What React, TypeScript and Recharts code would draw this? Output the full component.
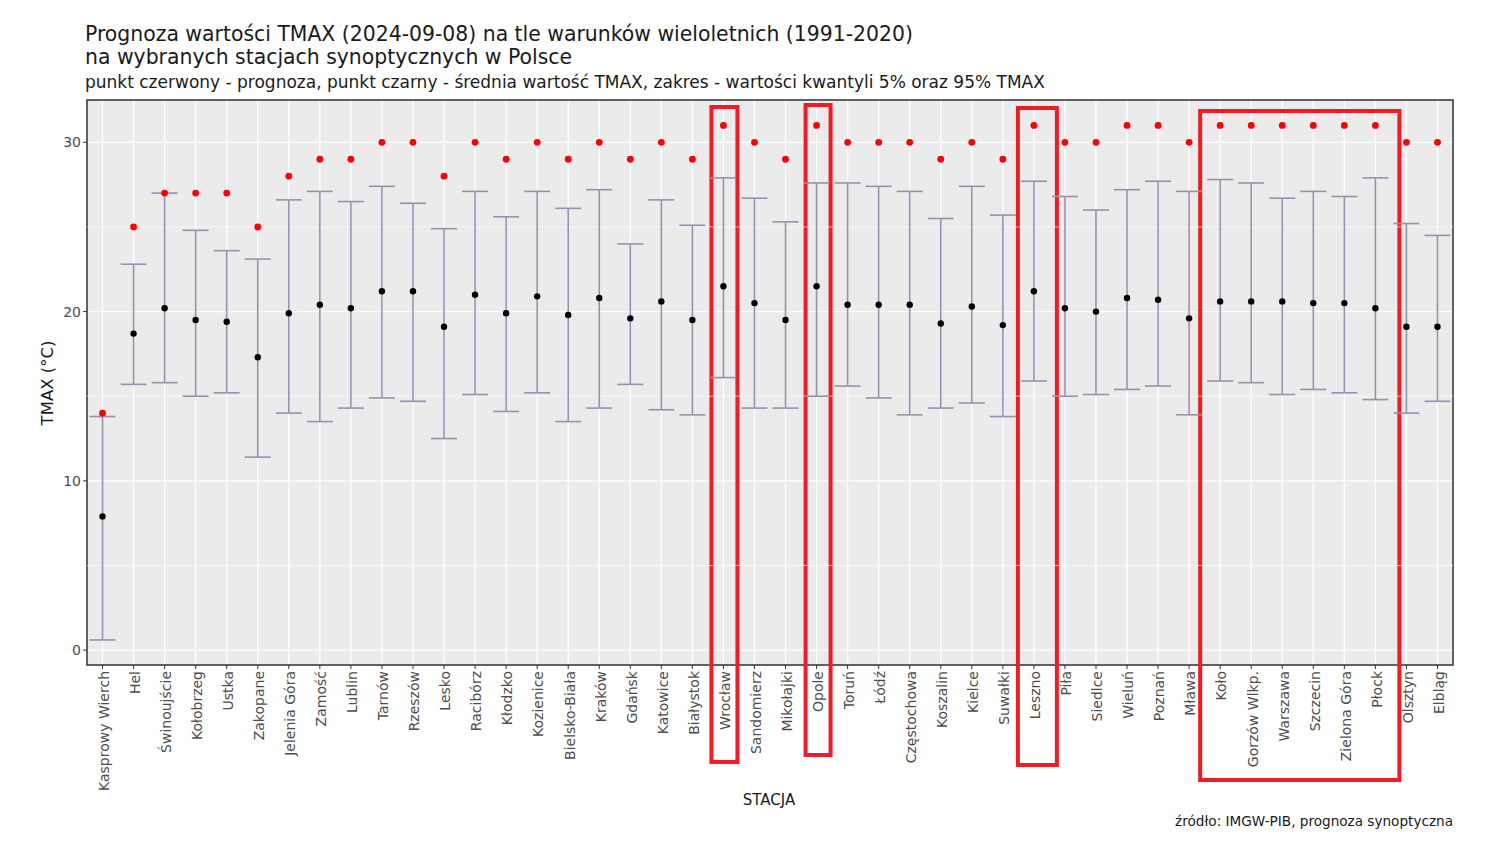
import React from "react";
import {
  ComposedChart, Scatter, ErrorBar, XAxis, YAxis, CartesianGrid, ReferenceLine, ReferenceArea,
} from "recharts";

const STATIONS = [
  "Kasprowy Wierch", "Hel", "Świnoujście", "Kołobrzeg", "Ustka", "Zakopane", "Jelenia Góra", "Zamość",
  "Lublin", "Tarnów", "Rzeszów", "Lesko", "Racibórz", "Kłodzko", "Kozienice", "Bielsko-Biała",
  "Kraków", "Gdańsk", "Katowice", "Białystok", "Wrocław", "Sandomierz", "Mikołajki", "Opole",
  "Toruń", "Łódź", "Częstochowa", "Koszalin", "Kielce", "Suwałki", "Leszno", "Piła",
  "Siedlce", "Wieluń", "Poznań", "Mława", "Koło", "Gorzów Wlkp.", "Warszawa", "Szczecin",
  "Zielona Góra", "Płock", "Olsztyn", "Elbląg",
];

// forecast TMAX (red points)
const FORECAST = [
  14, 25, 27, 27, 27, 25, 28, 29, 29, 30, 30, 28, 30, 29, 30, 29,
  30, 29, 30, 29, 31, 30, 29, 31, 30, 30, 30, 29, 30, 29, 31, 30,
  30, 31, 31, 30, 31, 31, 31, 31, 31, 31, 30, 30,
];

// long-term mean TMAX (black points)
const MEAN = [
  7.9, 18.7, 20.2, 19.5, 19.4, 17.3, 19.9, 20.4, 20.2, 21.2, 21.2, 19.1, 21.0, 19.9, 20.9, 19.8,
  20.8, 19.6, 20.6, 19.5, 21.5, 20.5, 19.5, 21.5, 20.4, 20.4, 20.4, 19.3, 20.3, 19.2, 21.2, 20.2,
  20.0, 20.8, 20.7, 19.6, 20.6, 20.6, 20.6, 20.5, 20.5, 20.2, 19.1, 19.1,
];

// 5% quantile
const Q05 = [
  0.6, 15.7, 15.8, 15.0, 15.2, 11.4, 14.0, 13.5, 14.3, 14.9, 14.7, 12.5, 15.1, 14.1, 15.2, 13.5,
  14.3, 15.7, 14.2, 13.9, 16.1, 14.3, 14.3, 15.0, 15.6, 14.9, 13.9, 14.3, 14.6, 13.8, 15.9, 15.0,
  15.1, 15.4, 15.6, 13.9, 15.9, 15.8, 15.1, 15.4, 15.2, 14.8, 14.0, 14.7,
];

// 95% quantile
const Q95 = [
  13.8, 22.8, 27.0, 24.8, 23.6, 23.1, 26.6, 27.1, 26.5, 27.4, 26.4, 24.9, 27.1, 25.6, 27.1, 26.1,
  27.2, 24.0, 26.6, 25.1, 27.9, 26.7, 25.3, 27.6, 27.6, 27.4, 27.1, 25.5, 27.4, 25.7, 27.7, 26.8,
  26.0, 27.2, 27.7, 27.1, 27.8, 27.6, 26.7, 27.1, 26.8, 27.9, 25.2, 24.5,
];

const Y_TICKS = [0, 10, 20, 30];
const Y_MINOR = [5, 15, 25];
const Y_DOMAIN = [-0.88, 32.5];

const data = STATIONS.map((name, i) => ({
  name,
  mean: MEAN[i],
  forecast: FORECAST[i],
  err: [+(MEAN[i] - Q05[i]).toFixed(2), +(Q95[i] - MEAN[i]).toFixed(2)],
}));

const W = 1485;
const H = 841;
const MARGIN = { top: 100, right: 32, bottom: 46, left: 47 };
const Y_WIDTH = 40;
const HALF = (W - MARGIN.left - MARGIN.right - Y_WIDTH) / STATIONS.length / 2;

// hand-drawn highlight boxes (annotation on top of the chart)
const HIGHLIGHTS = [
  { from: "Wrocław", to: "Wrocław", l: -12, r: 14, top: 7, below: 97 },
  { from: "Opole", to: "Opole", l: -11, r: 14, top: 5, below: 90 },
  { from: "Leszno", to: "Leszno", l: -16, r: 23, top: 8, below: 100 },
  { from: "Koło", to: "Płock", l: -20, r: 24, top: 11, below: 115 },
];

const font = "'DejaVu Sans', 'Noto Sans', sans-serif";

function StationTick({ x, y, payload }: any) {
  return (
    <text
      x={x}
      y={y}
      transform={`rotate(-90, ${x}, ${y})`}
      textAnchor="end"
      dy="0.45em"
      fontSize={14}
      fontFamily={font}
      fill="#4d4d4d"
    >
      {payload.value}
    </text>
  );
}

const dot = (color: string, r: number) => (p: any) => <circle cx={p.cx} cy={p.cy} r={r} fill={color} />;

export default function App() {
  return (
    <div style={{ position: "absolute", left: 0, top: 0, width: W, height: H, background: "#fff", fontFamily: font }}>
      <div style={{ position: "absolute", left: 85, top: 23, fontSize: 20.4, lineHeight: "23px", color: "#1a1a1a", whiteSpace: "nowrap" }}>
        Prognoza wartości TMAX (2024-09-08) na tle warunków wieloletnich (1991-2020)
        <br />
        na wybranych stacjach synoptycznych w Polsce
      </div>
      <div style={{ position: "absolute", left: 85, top: 72, fontSize: 17, lineHeight: "20px", color: "#1a1a1a", whiteSpace: "nowrap" }}>
        punkt czerwony - prognoza, punkt czarny - średnia wartość TMAX, zakres - wartości kwantyli 5% oraz 95% TMAX
      </div>
      <div style={{ position: "absolute", left: 47, top: 383, transform: "translate(-50%, -50%) rotate(-90deg)", fontSize: 16.5, color: "#1a1a1a", whiteSpace: "nowrap" }}>
        TMAX (°C)
      </div>
      <div style={{ position: "absolute", left: 769, top: 800, transform: "translate(-50%, -50%)", fontSize: 15, color: "#1a1a1a" }}>
        STACJA
      </div>
      <div style={{ position: "absolute", right: 32, top: 813, fontSize: 13.6, color: "#1a1a1a", whiteSpace: "nowrap" }}>
        źródło: IMGW-PIB, prognoza synoptyczna
      </div>
      <ComposedChart
        width={W}
        height={H}
        data={data}
        margin={MARGIN}
        style={{ position: "absolute", left: 0, top: 0 }}
      >
        <CartesianGrid fill="#ebebeb" stroke="#ffffff" strokeWidth={1.3} />
        {Y_MINOR.map((v) => (
          <ReferenceLine key={v} y={v} stroke="#ffffff" strokeWidth={0.6} />
        ))}
        <XAxis
          dataKey="name"
          type="category"
          interval={0}
          height={130}
          padding={{ left: HALF, right: HALF }}
          tick={<StationTick />}
          tickSize={4}
          tickLine={{ stroke: "#333" }}
          axisLine={false}
        />
        <YAxis
          type="number"
          domain={Y_DOMAIN}
          ticks={Y_TICKS}
          width={Y_WIDTH}
          tickSize={4}
          tickLine={{ stroke: "#333" }}
          axisLine={false}
          tick={{ fill: "#4d4d4d", fontSize: 14, fontFamily: font }}
        />
        <Scatter dataKey="mean" isAnimationActive={false} shape={dot("#000000", 3.2)}>
          <ErrorBar dataKey="err" direction="y" width={13} stroke="#9692ad" strokeWidth={1.6} />
        </Scatter>
        <Scatter dataKey="forecast" isAnimationActive={false} shape={dot("#ff0000", 3.4)} />
        <ReferenceArea
          x1={STATIONS[0]}
          x2={STATIONS[STATIONS.length - 1]}
          y1={Y_DOMAIN[0]}
          y2={Y_DOMAIN[1]}
          ifOverflow="visible"
          shape={(p: any) => (
            <rect
              x={p.x - HALF}
              y={p.y}
              width={p.width + 2 * HALF}
              height={p.height}
              fill="none"
              stroke="#3a3a3a"
              strokeWidth={1.6}
            />
          )}
        />
        {HIGHLIGHTS.map((h) => (
          <ReferenceArea
            key={h.from}
            x1={h.from}
            x2={h.to}
            ifOverflow="visible"
            shape={(p: any) => (
              <rect
                x={p.x + h.l}
                y={p.y + h.top}
                width={p.width - h.l + h.r}
                height={p.height - h.top + h.below}
                fill="none"
                stroke="#ee1c25"
                strokeWidth={4}
              />
            )}
          />
        ))}
      </ComposedChart>
    </div>
  );
}
